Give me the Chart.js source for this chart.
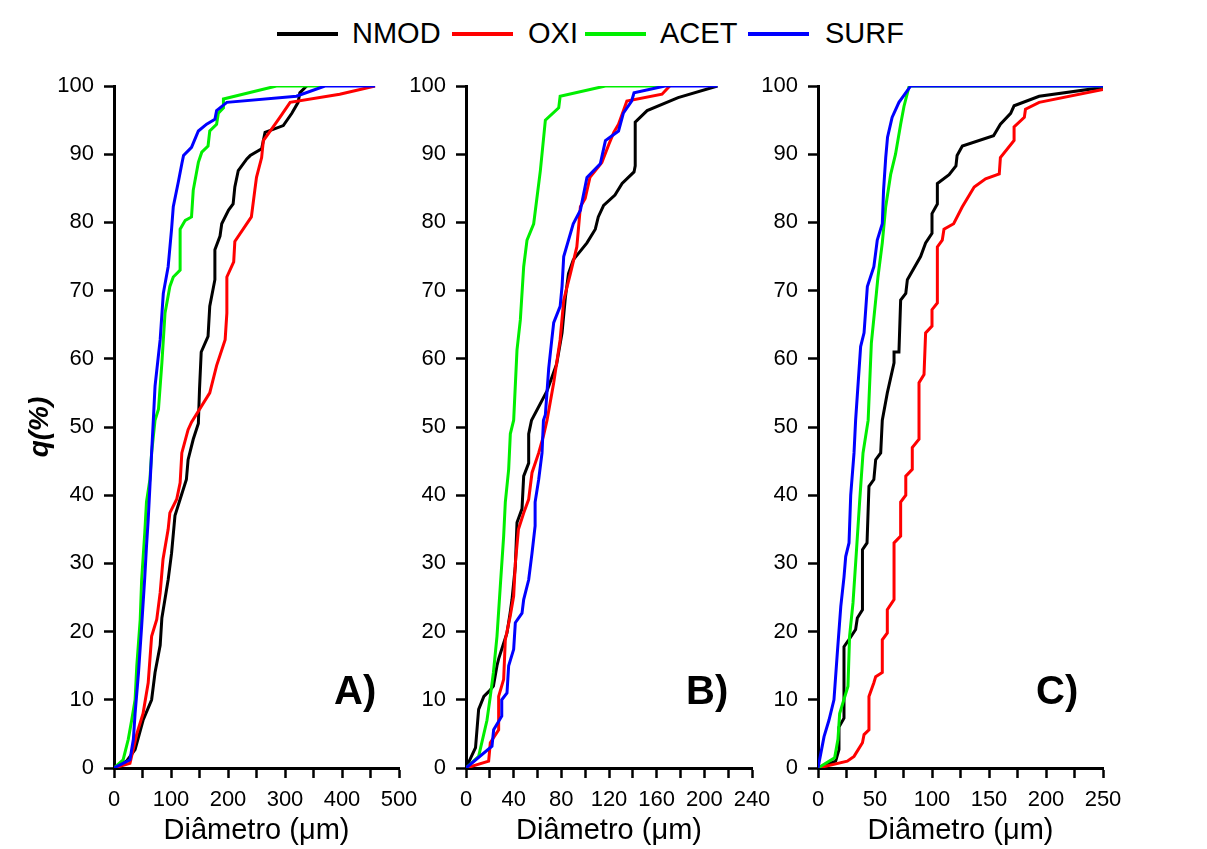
<!DOCTYPE html>
<html>
<head>
<meta charset="utf-8">
<script src="https://cdn.jsdelivr.net/npm/chart.js@4.4.0/dist/chart.umd.min.js"></script>
<style>
    body { margin: 0; background: #fff; width: 1207px; height: 849px; position: relative; overflow: hidden;
           font-family: 'Liberation Sans', Arial, sans-serif; color: #000; }
    canvas { position: absolute; top: 60px; }
    .leg-line { position: absolute; top: 32px; width: 61px; height: 4px; }
    .leg-text { position: absolute; top: 19px; font-size: 29px; line-height: 1; }
    .tag { position: absolute; top: 670px; font-size: 40px; font-weight: bold; line-height: 1; }
</style>
</head>
<body>
<div id="legend"></div>
<canvas id="chartA" width="429" height="789" style="left:0px"></canvas>
<canvas id="chartB" width="382" height="789" style="left:400px"></canvas>
<canvas id="chartC" width="455" height="789" style="left:752px"></canvas>
<div class="tag" style="left:334px">A)</div>
<div class="tag" style="left:686px">B)</div>
<div class="tag" style="left:1036px">C)</div>
<script>
var SERIES = ['NMOD', 'OXI', 'ACET', 'SURF'];
var COLORS = ['#000000', '#ff0000', '#00ee00', '#0000ff'];

// panel A: [diametro, q%]
var A_NMOD = [[0,0],[22,1],[37,2.7],[51,7],[66,10],[72,14],[81,18],[84,22],[95,27.6],[101,31.5],[107,37],[116,39.4],[127,42.3],[130,45.2],[139,48.2],[148,50.5],[150,55.5],[153,61],[165,63.3],[168,67.7],[177,71.6],[177,76],[186,78],[189,79.8],[201,81.8],[209,82.7],[212,85.2],[218,87.6],[233,89.3],[239,89.8],[259,90.8],[265,93.2],[297,94.2],[312,96],[323,97.6],[326,99],[338,100]];
var A_OXI = [[0,0],[28,0.7],[40,5],[51,8],[60,12.5],[66,19.3],[75,21.8],[81,25.7],[86,30.6],[95,35],[98,37.4],[110,39.4],[116,41.8],[119,46.2],[130,49.6],[136,50.7],[168,55],[180,59],[195,62.8],[198,66.7],[198,72],[210,74.2],[212,77.2],[241,80.8],[247,84.7],[250,86.6],[259,89.5],[262,92],[274,93.4],[291,95.4],[309,97.6],[396,98.8],[458,100]];
var A_ACET = [[0,0],[16,1.2],[25,4.2],[31,7],[37,10],[40,15],[46,21.8],[48.5,27.6],[54,34.5],[57,39],[63,42.3],[66,46.2],[72,51],[78,52.6],[84,59.4],[89.5,66.7],[98,70.6],[104,72],[116,73],[116,79],[125,80.3],[136,80.8],[139,84.7],[148,88.8],[154,90.3],[165,91.2],[168,93.4],[180,94.4],[183,96],[192,96.8],[192,98.1],[285,100],[367,100]];
var A_SURF = [[0,0],[28,1.2],[34,4.2],[37,8],[43,14],[48.5,20.8],[54,28],[57,32.5],[60,36.4],[63,41.3],[66,46.2],[69,51],[72,56],[81,62.8],[86.5,69.6],[95,73.5],[101,79],[104,82.3],[113,86],[119,88.6],[122,89.8],[136,91],[148,93.4],[162.5,94.4],[177,95.1],[180,96.4],[198,97.6],[320,98.5],[370,100],[458,100]];

// panel B
var B_NMOD = [[0,0],[8,3],[10.6,8.6],[15,10.5],[19,11.2],[23,12],[26,15],[27.4,16],[31.6,18.3],[34.4,19.8],[37,22.7],[38.6,24.7],[41.4,29.6],[42.8,36],[47,38],[48.4,42.8],[52.6,44.7],[52.6,49],[55,51],[68,55.3],[76,59.2],[80.6,63.8],[83.4,69],[86,72.5],[90,74.5],[101.5,77],[108.5,79],[111,80.8],[115.5,82.5],[125,84],[131,85.7],[141,87.4],[142,88.3],[142,94.7],[152,96.4],[178,98.3],[211,100]];
var B_OXI = [[0,0],[19,1],[20.4,3.7],[27.4,5.6],[27.4,10.5],[31.6,13],[33,18.8],[37,22.2],[40,25.2],[41.4,30],[44,35],[48.4,37.4],[52.6,39.4],[55.4,43.3],[61,46.2],[65,48.7],[68,51],[73.6,56.5],[79,62.8],[82,68.6],[87.6,72.5],[93,76.4],[96,82.3],[100,83.5],[104,86.6],[114,88.8],[120,91.5],[124,93.2],[128,94.4],[135,97.8],[164.5,98.8],[171,100]];
var B_ACET = [[0,0],[10.6,1.7],[17.6,7],[20.4,10.5],[23,14],[26,19.3],[28.8,26.7],[31.6,34],[33,39],[35.8,43.8],[37.2,49],[40,51],[42.8,61.3],[45.6,65.7],[48.4,73.5],[51.2,77.4],[56.8,79.8],[62.4,87.6],[66.6,95],[77.8,96.8],[79,98.5],[117,100],[165,100]];
var B_SURF = [[0,0],[21.8,3.2],[23.2,5.6],[30,7.6],[30,10],[34.4,11],[35.8,15],[40,17.4],[41.4,21.3],[47,22.7],[48.4,24.7],[52.6,27.6],[55.4,31.5],[58,35.5],[58,39],[61,42.3],[63.8,46.2],[65,51],[66.6,51.8],[69.4,58.6],[72,62.8],[73.6,65.3],[79,67.7],[80.6,70.6],[82,75],[90,79.8],[96,81.8],[101.5,86.6],[112.7,88.6],[117,92],[128,93.4],[132,96],[139,97.8],[141,99],[167,100],[211,100]];

// panel C
var C_NMOD = [[0,0],[15.5,1],[18.4,2.7],[18.4,6],[22.8,7.3],[22.8,17.8],[27,18.8],[33,20.3],[34.5,22],[39,23.2],[39,32],[43,33],[44.7,41.3],[49,42.3],[50.6,45.2],[55,46.2],[56.4,51],[60.8,55],[66.7,59.4],[66.7,61],[71,61],[72.5,68.6],[77,69.6],[78.4,71.6],[90,75],[94.4,77],[100,78.4],[100,81.3],[104.7,82.7],[104.7,85.7],[115,87],[121,88.3],[122,89.8],[126.6,91.2],[154,92.7],[160,94.4],[169,96],[172,97.1],[194,98.5],[250,99.8]];
var C_OXI = [[0,0],[25.7,1],[31.6,1.7],[39,3.7],[40.4,4.9],[44.7,5.6],[44.7,10.5],[49,12.5],[50.6,13.4],[56.4,14],[56.4,18.8],[60.8,19.8],[60.8,23.2],[66.7,24.7],[66.7,33],[72.5,34],[72.5,39],[77,40],[77,42.8],[82.7,43.8],[82.7,47],[88.6,48.2],[88.6,56.5],[93,57.7],[94.4,63.8],[100,64.8],[100,67.2],[104.7,68.2],[104.7,76.4],[109,77.4],[110.5,79],[119,79.8],[126.6,82.3],[137,85.2],[147,86.4],[159,87.1],[160,89.5],[172,92],[172,94],[181,95.4],[182,96.6],[194,97.6],[250,99.5]];
var C_ACET = [[0,0],[14.6,1.5],[17.5,4.2],[19,8],[26.3,12],[27.7,19.3],[30.7,24.2],[33.6,31.5],[36.5,39],[39.5,46.2],[44,51],[46.8,62.3],[51.2,69.6],[52.6,72],[56.4,77],[59.4,82.3],[63.7,87],[68,90],[72.5,94.4],[75.4,97],[80,100],[250,100]];
var C_SURF = [[0,0],[5.3,4.6],[9.6,7],[14,10],[17,17],[20,23.7],[22.8,28],[24.3,31],[27.2,33],[28.7,40],[31.6,46.2],[33,51],[37.4,61.8],[40.4,63.8],[43.3,70.6],[49,73.5],[52,77.4],[56.4,79.8],[57.5,84.7],[59.4,89.5],[61,92.5],[65,95.4],[71,97.6],[81.3,100],[250,100]];

// axis: max, minor step, labelled step
var A_XAXIS = [500, 50, 100];
var B_XAXIS = [240, 20, 40];
var C_XAXIS = [250, 25, 50];
var Y_AXIS = [0, 100, 10];

var X_TITLE = 'Diâmetro (μm)';
var Y_TITLE = 'q(%)';
var FONT = "'Liberation Sans', Arial, sans-serif";

// legend
var legX = [277, 452, 585, 748];
var legTextX = [352, 528, 660, 825];
var legend = document.getElementById('legend');
for (var i in SERIES) {
    var l = document.createElement('div');
    l.className = 'leg-line';
    l.style.left = legX[i] + 'px';
    l.style.background = COLORS[i];
    legend.appendChild(l);
    var t = document.createElement('div');
    t.className = 'leg-text';
    t.style.left = legTextX[i] + 'px';
    t.textContent = SERIES[i];
    legend.appendChild(t);
}

function makePanel(id, data, xaxis, yWidth, padRight, showYTitle) {
    var datasets = [];
    for (var i = 0; i < data.length; i++) {
        datasets.push({
            label: SERIES[i],
            data: data[i].map(function (p) { return {x: p[0], y: p[1]}; }),
            borderColor: COLORS[i],
            borderWidth: 3,
            pointRadius: 0,
            fill: false,
            tension: 0,
            order: data.length - 1 - i
        });
    }
    var config = {
        type: 'line',
        data: {datasets: datasets},
        options: {
            responsive: false,
            animation: false,
            layout: {padding: {top: 26, right: padRight, bottom: 0, left: 0}},
            plugins: {legend: {display: false}, tooltip: {enabled: false}},
            scales: {
                x: {
                    type: 'linear',
                    min: 0,
                    max: xaxis[0],
                    afterFit: function (s) { s.height = 81; },
                    ticks: {
                        stepSize: xaxis[1],
                        autoSkip: false,
                        maxRotation: 0,
                        padding: 9,
                        color: '#000',
                        font: {family: FONT, size: 22},
                        callback: function (v) { return v % xaxis[2] === 0 ? v : ''; }
                    },
                    grid: {drawOnChartArea: false, drawTicks: true, tickLength: 10, tickColor: '#000', tickWidth: 2.5},
                    border: {display: true, color: '#000', width: 3},
                    title: {display: true, text: X_TITLE, color: '#000', font: {family: FONT, size: 29}, padding: {top: 0, bottom: 1}}
                },
                y: {
                    min: Y_AXIS[0],
                    max: Y_AXIS[1],
                    afterFit: function (s) { s.width = yWidth; },
                    ticks: {stepSize: Y_AXIS[2], padding: 10, color: '#000', font: {family: FONT, size: 22}},
                    grid: {drawOnChartArea: false, drawTicks: true, tickLength: 10, tickColor: '#000', tickWidth: 2.5},
                    border: {display: true, color: '#000', width: 3},
                    title: {display: showYTitle, text: Y_TITLE, color: '#000',
                        font: {family: FONT, size: 28, weight: 'bold', style: 'italic'}, padding: {top: 23, bottom: 0}}
                }
            }
        }
    };
    return new Chart(document.getElementById(id).getContext('2d'), config);
}

makePanel('chartA', [A_NMOD, A_OXI, A_ACET, A_SURF], A_XAXIS, 114, 30, true);
makePanel('chartB', [B_NMOD, B_OXI, B_ACET, B_SURF], B_XAXIS, 66, 30, false);
makePanel('chartC', [C_NMOD, C_OXI, C_ACET, C_SURF], C_XAXIS, 66, 104, false);
</script>
</body>
</html>
